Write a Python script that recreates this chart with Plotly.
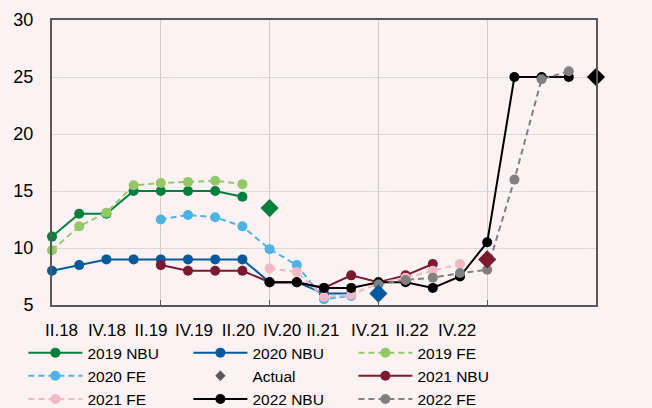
import plotly.graph_objects as go

# quarters on the category axis (IV.17 ... IV.22)
quarters = ["IV.17",
            "I.18", "II.18", "III.18", "IV.18",
            "I.19", "II.19", "III.19", "IV.19",
            "I.20", "II.20", "III.20", "IV.20",
            "I.21", "II.21", "III.21", "IV.21",
            "I.22", "II.22", "III.22", "IV.22"]
pos = {q: i for i, q in enumerate(quarters)}

# tick labels shown under the axis
tick_labels = ["II.18", "IV.18", "II.19", "IV.19", "II.20",
               "IV.20", "II.21", "IV.21", "II.22", "IV.22"]

# ── forecasts
q_2019 = quarters[0:8]
nbu_2019 = [11.0, 13.0, 13.0, 15.0, 15.0, 15.0, 15.0, 14.5]
fe_2019 = [9.8, 11.9, 13.1, 15.5, 15.7, 15.8, 15.9, 15.6]

q_2020_nbu = quarters[0:12]
nbu_2020 = [8.0, 8.5, 9.0, 9.0, 9.0, 9.0, 9.0, 9.0, 7.0, 7.0, 6.0, 6.0]
q_2020_fe = quarters[4:12]
fe_2020 = [12.5, 12.9, 12.7, 11.9, 9.9, 8.5, 5.5, 5.8]

q_2021_nbu = quarters[4:15]
nbu_2021 = [8.5, 8.0, 8.0, 8.0, 7.0, 7.0, 6.5, 7.6, 7.0, 7.6, 8.6]
q_2021_fe = quarters[8:16]
fe_2021 = [8.2, 7.9, 5.7, 5.9, 6.9, 7.4, 8.0, 8.6]

q_2022_nbu = quarters[8:20]
nbu_2022 = [7.0, 7.0, 6.5, 6.5, 7.0, 7.0, 6.5, 7.5, 10.5, 25.0, 25.0, 25.0]
q_2022_fe = quarters[12:20]
fe_2022 = [6.8, 7.2, 7.4, 7.8, 8.1, 16.0, 24.8, 25.5]

# ── actual rate at year end
q_actual = ["IV.19", "IV.20", "IV.21", "IV.22"]
actual = [13.5, 6.0, 9.0, 25.0]

GREEN, LGREEN = "#00803C", "#92C865"
BLUE, LBLUE = "#005A9B", "#4BB3E6"
MAROON, PINK = "#7B1A2E", "#F2B8C3"
BLACK, GREY = "#000000", "#808080"
BG = "#FCF2F3"
FONT = "Liberation Sans, Arial"

fig = go.Figure()


def add_line(qs, vals, name, color, dashed=False):
    fig.add_trace(go.Scatter(
        x=[pos[q] for q in qs], y=vals,
        mode="lines+markers",
        name=name,
        line=dict(color=color, width=2, dash="6px,4px" if dashed else "solid"),
        marker=dict(color=color, size=10, symbol="circle"),
        cliponaxis=False,
    ))


add_line(q_2019, nbu_2019, "2019 NBU", GREEN)
add_line(q_2020_nbu, nbu_2020, "2020 NBU", BLUE)
add_line(q_2019, fe_2019, "2019 FE", LGREEN, dashed=True)
add_line(q_2020_fe, fe_2020, "2020 FE", LBLUE, dashed=True)

# legend entry only for Actual (small grey diamond)
fig.add_trace(go.Scatter(
    x=[None], y=[None], mode="markers", name="Actual",
    marker=dict(color="#595959", size=8, symbol="diamond"),
))

add_line(q_2021_nbu, nbu_2021, "2021 NBU", MAROON)
add_line(q_2021_fe, fe_2021, "2021 FE", PINK, dashed=True)
add_line(q_2022_nbu, nbu_2022, "2022 NBU", BLACK)
add_line(q_2022_fe, fe_2022, "2022 FE", GREY, dashed=True)

fig.add_trace(go.Scatter(
    x=[pos[q] for q in q_actual], y=actual,
    mode="markers", name="Actual", showlegend=False,
    marker=dict(color=[GREEN, BLUE, MAROON, BLACK], size=14, symbol="diamond"),
    cliponaxis=False,
))

# label positions along the axis (as placed in the source chart)
tick_pos = [0.35, 2.02, 3.64, 5.22, 6.85, 8.46, 9.96, 11.69, 13.24, 14.89]

fig.update_layout(
    width=652, height=408,
    margin=dict(l=52, r=56, t=20, b=103, autoexpand=False),
    paper_bgcolor=BG, plot_bgcolor=BG,
    font=dict(family=FONT, size=16, color="#000000"),
    xaxis=dict(
        range=[0, 20],
        tickmode="array", tickvals=tick_pos, ticktext=tick_labels,
        tickfont=dict(size=17),
        showgrid=False, ticks="", ticklabelstandoff=9,
        showline=True, linecolor="#595959", linewidth=2, mirror=True,
        zeroline=False,
        minor=dict(tickmode="array", tickvals=[4, 8, 12, 16],
                   showgrid=True, gridcolor="#CFCBCD", gridwidth=1,
                   ticks="inside", ticklen=5, tickcolor="#595959"),
    ),
    yaxis=dict(
        range=[5, 30], dtick=5,
        tickfont=dict(size=18),
        showgrid=True, gridcolor="#DCD8DA", gridwidth=1,
        ticks="", ticklabelstandoff=13,
        showline=True, linecolor="#595959", linewidth=2, mirror=True,
        zeroline=False,
    ),
    legend=dict(
        orientation="h", x=-0.0526, xanchor="left", y=-0.109, yanchor="top",
        entrywidth=96, entrywidthmode="pixels", itemwidth=54,
        bgcolor="rgba(0,0,0,0)", font=dict(size=15.5),
        tracegroupgap=0,
    ),
)

fig.write_html("out.html", config={"displayModeBar": False},
               post_script="document.body.style.margin='0';")
